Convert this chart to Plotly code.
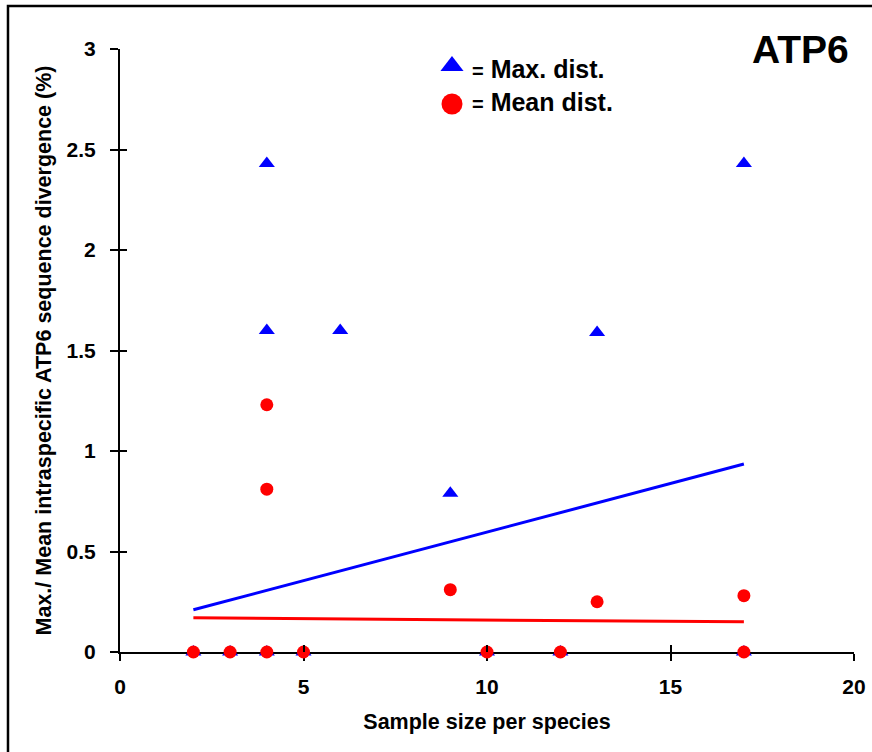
import plotly.graph_objects as go

# Sample size per species and intraspecific ATP6 divergence (%)
max_x = [2, 3, 4, 4, 4, 5, 6, 9, 10, 12, 13, 17, 17]
max_y = [0, 0, 0, 2.43, 1.60, 0, 1.60, 0.79, 0, 0, 1.59, 2.43, 0]

mean_x = [2, 3, 4, 4, 4, 5, 9, 10, 12, 13, 17, 17]
mean_y = [0, 0, 0, 1.23, 0.81, 0, 0.31, 0, 0, 0.25, 0.28, 0]

# Linear trend lines (end points over the sampled range)
trend_x = [2, 17]
max_trend = [0.21, 0.935]
mean_trend = [0.17, 0.15]

x_ticks = [0, 5, 10, 15, 20]
y_ticks = [0, 0.5, 1, 1.5, 2, 2.5, 3]
y_tick_text = ["0", "0.5", "1", "1.5", "2", "2.5", "3"]

BLUE = "#0000ff"
RED = "#ff0000"
FONT = "Liberation Sans, Arial, sans-serif"

fig = go.Figure()

fig.add_trace(go.Scatter(x=trend_x, y=max_trend, mode="lines",
                         line=dict(color=BLUE, width=3), showlegend=False))
fig.add_trace(go.Scatter(x=trend_x, y=mean_trend, mode="lines",
                         line=dict(color=RED, width=3), showlegend=False))
fig.add_trace(go.Scatter(x=max_x, y=max_y, mode="markers", cliponaxis=False,
                         marker=dict(symbol="triangle-up", size=14, color=BLUE),
                         showlegend=False))
fig.add_trace(go.Scatter(x=mean_x, y=mean_y, mode="markers", cliponaxis=False,
                         marker=dict(symbol="circle", size=13, color=RED),
                         showlegend=False))

# Inner half of the crossing tick marks
fig.add_trace(go.Scatter(x=[], y=[], xaxis="x2", yaxis="y2", showlegend=False))

# Key symbols, placed on a 0..1 overlay of the plot area
fig.add_trace(go.Scatter(x=[0.4523], y=[0.9718], xaxis="x3", yaxis="y3",
                         mode="markers", cliponaxis=False, showlegend=False,
                         marker=dict(symbol="triangle-up", size=20, color=BLUE)))
fig.add_trace(go.Scatter(x=[0.4523], y=[0.9088], xaxis="x3", yaxis="y3",
                         mode="markers", cliponaxis=False, showlegend=False,
                         marker=dict(symbol="circle", size=21, color=RED)))

axis_common = dict(showgrid=False, zeroline=False, showline=True,
                   linecolor="black", linewidth=2, tickcolor="black",
                   tickwidth=2, layer="below traces", automargin=False)

fig.update_layout(
    width=872, height=752,
    margin=dict(l=120, r=18, t=49, b=100),
    paper_bgcolor="white", plot_bgcolor="white",
    font=dict(family=FONT, color="black"),
    showlegend=False,
    xaxis=dict(range=[0, 20], tickvals=x_ticks, ticks="outside", ticklen=7,
               tickfont=dict(family=FONT, size=21, weight="bold"),
               ticklabelstandoff=8,
               title=dict(text="<b>Sample size per species</b>",
                          font=dict(family=FONT, size=21.5), standoff=17),
               **axis_common),
    yaxis=dict(range=[0, 3], tickvals=y_ticks, ticktext=y_tick_text,
               ticks="outside", ticklen=8,
               tickfont=dict(family=FONT, size=21, weight="bold"),
               ticklabelstandoff=10,
               title=dict(text="<b>Max./ Mean intraspecific ATP6 sequence divergence (%)</b>",
                          font=dict(family=FONT, size=21.5), standoff=9),
               **axis_common),
    xaxis2=dict(range=[0, 20], overlaying="x", anchor="y", tickvals=x_ticks,
                ticks="inside", ticklen=7, tickwidth=2, tickcolor="black",
                showticklabels=False, showline=False, showgrid=False,
                zeroline=False, automargin=False),
    yaxis2=dict(range=[0, 3], overlaying="y", anchor="x", tickvals=y_ticks,
                ticks="inside", ticklen=7, tickwidth=2, tickcolor="black",
                showticklabels=False, showline=False, showgrid=False,
                zeroline=False, automargin=False),
    xaxis3=dict(range=[0, 1], overlaying="x", anchor="y", visible=False),
    yaxis3=dict(range=[0, 1], overlaying="y", anchor="x", visible=False),
    annotations=[
        dict(text="<b>ATP6</b>", xref="paper", yref="paper", x=0.996, y=1.0,
             xanchor="right", yanchor="middle", showarrow=False,
             font=dict(family=FONT, size=39, color="black")),
        dict(text="<b><span style='font-size:20px'>=</span> Max. dist.</b>",
             xref="paper", yref="paper", x=0.4768, y=0.967,
             xanchor="left", yanchor="middle", showarrow=False,
             font=dict(family=FONT, size=25, color="black")),
        dict(text="<b><span style='font-size:20px'>=</span> Mean dist.</b>",
             xref="paper", yref="paper", x=0.4768, y=0.912,
             xanchor="left", yanchor="middle", showarrow=False,
             font=dict(family=FONT, size=25, color="black")),
    ],
    shapes=[
        dict(type="rect", xref="paper", yref="paper",
             x0=-0.1526, x1=1.04, y0=-0.18, y1=1.0713,
             line=dict(color="black", width=2.5), fillcolor="rgba(0,0,0,0)",
             layer="below"),
    ],
)

fig.write_html("out.html")
